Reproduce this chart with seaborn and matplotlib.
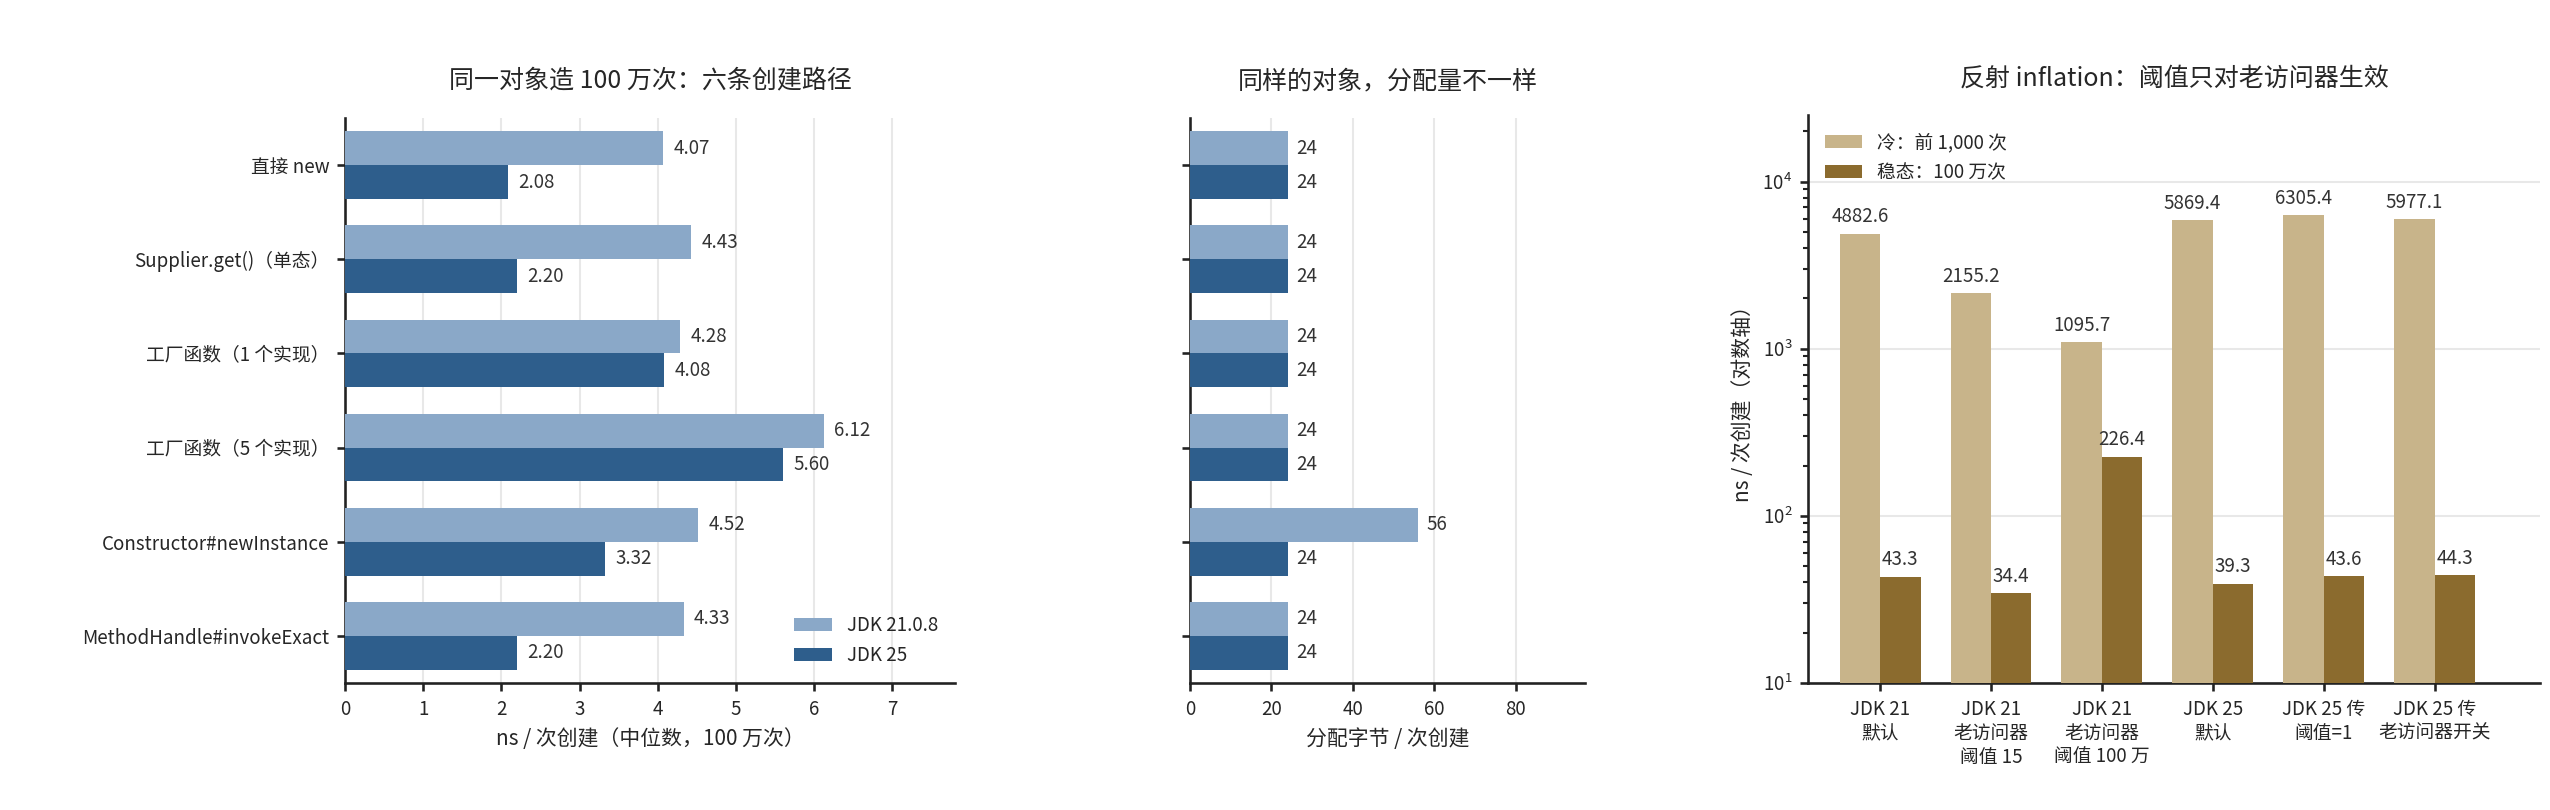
import matplotlib
matplotlib.use("Agg")
import matplotlib.pyplot as plt
import seaborn as sns
import pandas as pd

categories = ["直接 new", "Supplier.get()（单态）", "工厂函数（1 个实现）", "工厂函数（5 个实现）",
              "Constructor#newInstance", "MethodHandle#invokeExact"]
jdk21_ns = [4.07, 4.43, 4.28, 6.12, 4.52, 4.33]
jdk25_ns = [2.08, 2.20, 4.08, 5.60, 3.32, 2.20]
jdk21_bytes = [24, 24, 24, 24, 56, 24]
jdk25_bytes = [24, 24, 24, 24, 24, 24]
series_names = ["JDK 21.0.8", "JDK 25"]

refl_cats = ["JDK 21\n默认", "JDK 21\n老访问器\n阈值 15", "JDK 21\n老访问器\n阈值 100 万",
             "JDK 25\n默认", "JDK 25 传\n阈值=1", "JDK 25 传\n老访问器开关"]
cold = [4882.6, 2155.2, 1095.7, 5869.4, 6305.4, 5977.1]
steady = [43.3, 34.4, 226.4, 39.3, 43.6, 44.3]
refl_series = ["冷：前 1,000 次", "稳态：100 万次"]

sns.set_theme(style="white")
plt.rcParams['font.family'] = ['Noto Sans CJK SC', 'DejaVu Sans']
plt.rcParams['axes.unicode_minus'] = False

fig = plt.figure(figsize=(17, 5.4), dpi=150)
ax1 = fig.add_axes([345/2550, 1-683/810, 610/2550, 565/810])
ax2 = fig.add_axes([1190/2550, 1-683/810, 395/2550, 565/810])
ax3 = fig.add_axes([1808/2550, 1-683/810, 732/2550, 568/810])

blue_pal = ["#8aa8c8", "#2e5e8c"]
gold_pal = ["#c8b48a", "#8b6b2e"]

df1 = pd.DataFrame({"cat": categories * 2, "val": jdk21_ns + jdk25_ns,
                    "s": [series_names[0]] * 6 + [series_names[1]] * 6})
sns.barplot(data=df1, y="cat", x="val", hue="s", orient="h", palette=blue_pal, saturation=1,
            width=0.72, ax=ax1, errorbar=None, zorder=3, linewidth=0)
for c in ax1.containers:
    ax1.bar_label(c, labels=[f"{v:.2f}" for v in c.datavalues], padding=5, fontsize=9, color="#333333")
ax1.set_xlim(0, 7.8)
ax1.set_xticks(range(8))
ax1.set_xlabel("ns / 次创建（中位数，100 万次）", fontsize=10)
ax1.set_ylabel("")
ax1.set_title("同一对象造 100 万次：六条创建路径", fontsize=12, pad=14)
ax1.grid(axis="x", color="#e8e8e8", zorder=0)
ax1.legend(loc="lower right", frameon=False, fontsize=9, title=None)

df2 = pd.DataFrame({"cat": categories * 2, "val": jdk21_bytes + jdk25_bytes,
                    "s": [series_names[0]] * 6 + [series_names[1]] * 6})
sns.barplot(data=df2, y="cat", x="val", hue="s", orient="h", palette=blue_pal, saturation=1,
            width=0.72, ax=ax2, errorbar=None, legend=False, zorder=3, linewidth=0)
for c in ax2.containers:
    ax2.bar_label(c, labels=[f"{v:.0f}" for v in c.datavalues], padding=4, fontsize=9, color="#333333")
ax2.set_xlim(0, 97)
ax2.set_xticks([0, 20, 40, 60, 80])
ax2.set_yticklabels([])
ax2.set_xlabel("分配字节 / 次创建", fontsize=10)
ax2.set_ylabel("")
ax2.set_title("同样的对象，分配量不一样", fontsize=12, pad=14)
ax2.grid(axis="x", color="#e8e8e8", zorder=0)

df3 = pd.DataFrame({"cat": refl_cats * 2, "val": cold + steady,
                    "s": [refl_series[0]] * 6 + [refl_series[1]] * 6})
sns.barplot(data=df3, x="cat", y="val", hue="s", palette=gold_pal, width=0.73, saturation=1,
            ax=ax3, errorbar=None, zorder=3, linewidth=0)
ax3.set_yscale("log")
for c in ax3.containers:
    ax3.bar_label(c, labels=[f"{v:.1f}" for v in c.datavalues], padding=3, fontsize=9, color="#333333")
ax3.set_ylim(10, 25000)
ax3.set_xlim(-0.65, 5.95)
ax3.set_xlabel("")
ax3.set_ylabel("ns / 次创建（对数轴）", fontsize=10)
ax3.set_title("反射 inflation：阈值只对老访问器生效", fontsize=12, pad=14)
ax3.grid(axis="y", which="major", color="#e8e8e8", zorder=0)
ax3.legend(loc="upper left", frameon=False, fontsize=9, title=None)

for ax in (ax1, ax2, ax3):
    sns.despine(ax=ax)
    for sp in ("left", "bottom"):
        ax.spines[sp].set_color("#222222")
    ax.tick_params(axis="both", which="both", length=4, color="#222222", labelsize=9,
                   left=True, bottom=True)
ax3.tick_params(axis="y", which="minor", length=2.5)

fig.savefig("out.png", dpi=150)
